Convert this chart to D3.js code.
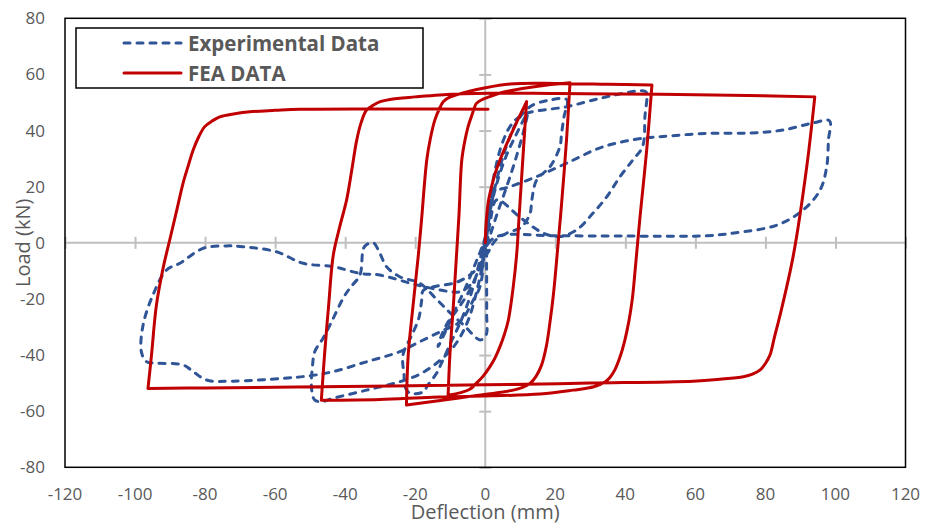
<!DOCTYPE html>
<html>
<head>
<meta charset="utf-8">
<script src="https://cdn.jsdelivr.net/npm/d3@7"></script>
<style>
  body { margin: 0; background: #fff; }
  svg { display: block; font-family: "Open Sans", sans-serif; }
</style>
</head>
<body>
<div id="chart"></div>
<script>
// FEA hysteresis, deflection (mm) and load (kN), in loading order
var feaDeflection = [0, 0.15, 0.4, 0.9, 1.8, 2.9, 4.2, 5.8, 7.5, 9.6, 11.8,
  9.6, 9, 8, 6.6, 5.5, 4.2, 2.8, 1.3, -0.6, -2.5, -4.4, -7, -10.6,
  -10.1, -9.1, -8.2, -7.5, -6.7, -5.8, -4.9, -3.8, -2.5, -0.6, 1.3, 4, 7.1, 15, 24.2,
  23.2, 21.8, 20.4, 19.5, 18.5, 17.5, 16.1, 14.5, 12.8, 10.5, 8, -7, -22.5,
  -22, -20.6, -19.1, -18.2, -16.7, -15.7, -14.4, -13.2, -12, -10.3, -8.2, -4.5, -0.6, 7.1, 20, 35, 47.6,
  46.1, 44.2, 42.8, 42, 41, 39.8, 38.4, 37, 35.6, 34.2, 31, 25.1, 15.6, -15, -30.1, -46.8,
  -45.9, -44.7, -43.4, -41.6, -39.6, -38.1, -36.7, -35.4, -33.9, -32, -30, -27.2, -20, -13, 1.3, 20, 50, 75, 94.1,
  91.8, 88, 84.2, 82.6, 81.3, 80, 78.5, 76.3, 73.7, 67, 59.4, 30, 0, -40, -80, -96.3,
  -95.3, -93.9, -92, -90.1, -88.2, -86.3, -84.8, -83.4, -81.8, -80.1, -78, -75.8, -71.5, -67.2, -60, -52.9, -25, 0.8];
var feaLoad = [0, 5, 9.3, 14.8, 20, 25, 29.5, 34.3, 39, 44.6, 50.3,
  8.1, -3.7, -15.6, -27.5, -32.5, -37, -41, -44.2, -47.5, -50, -52.2, -53.4, -54.3,
  -40, -22.2, -4.3, 10, 29.5, 36.5, 41.4, 45.5, 49.7, 51.2, 52.1, 53.3, 54.2, 55.8, 57,
  36.6, 14, -6, -18, -28.1, -36.5, -43.5, -47.6, -50.1, -51.6, -52.5, -55.2, -57.8,
  -40, -22.2, -4.3, 8.1, 29.5, 37, 43.7, 47.5, 50.3, 51.8, 52.7, 54, 55.1, 56.6, 56.8, 56.5, 56.2,
  33.1, 9.3, -9.7, -20, -28, -35, -41, -45.3, -48, -49.6, -51.3, -52.5, -53.9, -55, -55.8, -56.1,
  -40, -22, -4.4, 5.5, 15.2, 26, 36.6, 43, 47.3, 49, 50.3, 51.1, 52, 52.7, 53.3, 53.2, 52.9, 52.5, 52,
  27.1, -4.3, -25.7, -33.5, -40, -43, -45.3, -46.8, -47.7, -48.6, -49.3, -50, -50.6, -51.2, -51.7, -51.9,
  -40, -22.2, -9.1, 1, 11, 21.2, 27.5, 33.1, 37.8, 41.4, 43.4, 44.9, 46, 46.7, 47.2, 47.6, 47.7, 47.6];

// Experimental hysteresis, deflection (mm) and load (kN)
var expDeflection = [0, 0.8, 1.5, 0.8, -0.5, -1.2, -0.3, 0.5,
  1.5, 3.5, 6, 9, 12,
  11, 9.2, 7.2, 5, 3.3, 1.5, 0, -2, -4.5, -7.5, -10.5, -12.5, -13.5,
  -11.5, -9, -6, -3, 0,
  1.8, 4, 6.5, 9, 12.8, 18.5, 23.3,
  22.5, 21.8, 21.3, 18.5, 14.7, 13.3, 12.8, 10.4, 6.1, 3, 0.5,
  -3, -8, -14, -17.7, -18.2, -19, -21, -23.5, -23.2, -22.9, -21.5, -17.7, -16.4, -13.9, -12.5, -10, -7, -4, -1.5, 0,
  1, 2.5, 5, 8, 11.8, 23.3, 32.8, 40.4, 44.2, 45.9, 45.6, 44.9, 42.2, 38.5, 34.7, 30.8, 26.1, 21.3, 16.5, 10, 3.3,
  1.5, 0.5, 0.4, 0.4, 0.2, -1.5, -6, -10, -14, -18.7, -24.4, -28.2, -30.1, -32, -34.5,
  -35.8, -38.7, -40.6, -43.4, -46.3, -48.7, -49.3, -49.6, -48.7, -46.7, -43.4, -33.9, -24.4, -19, -14, -9, -5, -2, 0,
  1, 2.2, 7.1, 14.7, 23.3, 33.6, 45.1, 49.9, 63.3, 75.6, 85, 93.6, 98.3,
  98, 97.5, 95.6, 90.8, 83.3, 71, 63.3, 40, 20, 4, 1,
  -1.5, -3.5, -7.2, -10.1, -19.6, -30.1, -35.8, -43.4, -52, -59.6, -69.1, -73.9, -80.6, -87.2, -91,
  -94.9, -97.7, -98.2, -96.7, -93.9, -86.3, -83.4, -79.6, -72, -57.7, -50.1, -43.4, -33.9, -24.4, -19.6,
  -12.9, -7.2, -3.4, -1.5, -0.6, -1];
var expLoad = [0, 7, 14, 6, -4, -12, -4, 4,
  12, 22, 31, 39, 46,
  40, 32, 24, 16, 10, 3, -3, -10, -17, -23, -28, -33, -37,
  -32, -25, -17, -8, 2,
  14, 26, 36, 43, 48.5, 50.9, 51,
  45, 39, 34.2, 27.1, 22.4, 15.3, 10.5, 5.7, 3.4, 1, -4,
  -10, -14, -15.5, -17, -21, -27, -33, -40, -47, -51.3, -53.6, -53.1, -50.7, -46.5, -42.9, -36, -28, -18, -6, 2,
  12, 24, 36, 43, 46.1, 48.5, 51.5, 53.5, 54.2, 53.8, 45, 34.2, 29.6, 23.6, 16.4, 10.6, 4.6, 2.2, 3.5, 9, 15.3,
  8, -2, -14, -25, -33, -34.6, -29.5, -25, -20, -14.4, -12.1, -8.5, -3.7, 0, -1.4,
  -11.5, -16.2, -19.8, -26.9, -34, -38.8, -43.5, -51.9, -56, -56.6, -55.4, -52.5, -49.5, -47, -43, -37, -28, -15, -2,
  8, 17.7, 20, 23.6, 28.4, 34.2, 37.3, 37.8, 39, 39.1, 40.2, 42.7, 43.5,
  36.6, 27.1, 18.8, 11.7, 6.3, 3.5, 2.5, 2.4, 2.5, 2.5, 0,
  -8, -14, -17.4, -17.4, -15, -11.5, -10.9, -8.5, -7.3, -3.2, -1.4, -1.1, -2, -7.3, -9.7,
  -18.6, -29.3, -38.8, -42.4, -42.9, -43.5, -45.9, -48.9, -49.3, -48.3, -47.4, -45.9, -42.4, -38.8, -35.8,
  -31.7, -28.1, -20.4, -15.6, -7.3, 0];

var xTicks = [-120, -100, -80, -60, -40, -20, 0, 20, 40, 60, 80, 100, 120];
var yTicks = [-80, -60, -40, -20, 0, 20, 40, 60, 80];
var seriesNames = ["Experimental Data", "FEA DATA"];

// split a hysteresis path where the deflection reverses, so each branch
// can be smoothed on its own and the load reversals stay sharp
function splitBranches(pts) {
  var branches = [];
  var cur = [pts[0]];
  var dir = 0;
  for (var i = 1; i < pts.length; i++) {
    var s = Math.sign(pts[i][0] - pts[i - 1][0]);
    if (dir !== 0 && s !== 0 && s !== dir) {
      branches.push(cur);
      cur = [pts[i - 1]];
    }
    if (s !== 0) dir = s;
    cur.push(pts[i]);
  }
  branches.push(cur);
  return branches;
}

function drawChart() {
  var w = 926;
  var h = 525;
  var plotLeft = 65, plotRight = 905.5, plotTop = 18.3, plotBottom = 467.3;

  var svg = d3.select("#chart")
    .append("svg")
    .attr("width", w)
    .attr("height", h);

  var x = d3.scaleLinear().domain([-120, 120]).range([plotLeft, plotRight]);
  var y = d3.scaleLinear().domain([-80, 80]).range([plotBottom, plotTop]);

  var grey = "#bfbfbf";
  var textColor = "#595959";

  // axis lines through zero
  svg.append("line")
    .attr("x1", x(-120)).attr("x2", x(120))
    .attr("y1", y(0)).attr("y2", y(0))
    .attr("stroke", grey).attr("stroke-width", 2);
  svg.append("line")
    .attr("x1", x(0)).attr("x2", x(0))
    .attr("y1", y(80)).attr("y2", y(-80))
    .attr("stroke", grey).attr("stroke-width", 2);

  // cross tick marks
  var xAxis = svg.append("g")
    .attr("transform", "translate(0," + (y(0) - 6) + ")")
    .call(d3.axisBottom(x).tickValues(xTicks).tickSize(12).tickFormat(""));
  var yAxis = svg.append("g")
    .attr("transform", "translate(" + (x(0) + 6) + ",0)")
    .call(d3.axisLeft(y).tickValues(yTicks).tickSize(12).tickFormat(""));
  [xAxis, yAxis].forEach(function (g) {
    g.select(".domain").remove();
    g.selectAll(".tick line").attr("stroke", grey).attr("stroke-width", 2);
  });

  // tick labels sit low / left, outside the plot
  svg.selectAll(".xlabel")
    .data(xTicks)
    .enter()
    .append("text")
    .attr("class", "xlabel")
    .attr("x", function (d) { return x(d); })
    .attr("y", 500)
    .attr("text-anchor", "middle")
    .attr("fill", textColor)
    .style("font-size", "17px")
    .text(function (d) { return d; });

  svg.selectAll(".ylabel")
    .data(yTicks)
    .enter()
    .append("text")
    .attr("class", "ylabel")
    .attr("x", 45)
    .attr("y", function (d) { return y(d) + 6; })
    .attr("text-anchor", "end")
    .attr("fill", textColor)
    .style("font-size", "17px")
    .text(function (d) { return d; });

  // axis titles
  svg.append("text")
    .attr("x", (plotLeft + plotRight) / 2)
    .attr("y", 519)
    .attr("text-anchor", "middle")
    .attr("fill", textColor)
    .style("font-size", "20px")
    .text("Deflection (mm)");

  svg.append("text")
    .attr("transform", "translate(30," + y(0) + ") rotate(-90)")
    .attr("text-anchor", "middle")
    .attr("fill", textColor)
    .style("font-size", "20px")
    .text("Load (kN)");

  // clip the curves to the plot area
  svg.append("clipPath").attr("id", "plotClip")
    .append("rect")
    .attr("x", plotLeft).attr("y", plotTop)
    .attr("width", plotRight - plotLeft).attr("height", plotBottom - plotTop);

  var smoothLine = d3.line()
    .x(function (d) { return x(d[0]); })
    .y(function (d) { return y(d[1]); })
    .curve(d3.curveCatmullRom.alpha(0.5));

  var plot = svg.append("g").attr("clip-path", "url(#plotClip)");

  plot.append("path")
    .datum(d3.zip(expDeflection, expLoad))
    .attr("d", smoothLine)
    .attr("fill", "none")
    .attr("stroke", "#2f5597")
    .attr("stroke-width", 3)
    .attr("stroke-linecap", "round")
    .attr("stroke-linejoin", "round")
    .attr("stroke-dasharray", "6,7");

  var feaBranches = splitBranches(d3.zip(feaDeflection, feaLoad));
  plot.append("path")
    .attr("d", feaBranches.map(function (b) { return smoothLine(b); }).join(""))
    .attr("fill", "none")
    .attr("stroke", "#c00000")
    .attr("stroke-width", 3)
    .attr("stroke-linejoin", "round")
    .attr("stroke-linecap", "round");

  // plot border
  svg.append("rect")
    .attr("x", plotLeft).attr("y", plotTop)
    .attr("width", plotRight - plotLeft).attr("height", plotBottom - plotTop)
    .attr("fill", "none")
    .attr("stroke", "#000")
    .attr("stroke-width", 1.5);

  // legend
  var legend = svg.append("g");
  legend.append("rect")
    .attr("x", 76).attr("y", 28)
    .attr("width", 347).attr("height", 60)
    .attr("fill", "#fff")
    .attr("stroke", "#000")
    .attr("stroke-width", 1.5);

  var rows = legend.selectAll(".row")
    .data(seriesNames)
    .enter()
    .append("g")
    .attr("class", "row")
    .attr("transform", function (d, i) { return "translate(0," + (43 + i * 30) + ")"; });

  rows.append("line")
    .attr("x1", 124).attr("x2", 181)
    .attr("y1", 0).attr("y2", 0)
    .attr("stroke", function (d, i) { return i === 0 ? "#2f5597" : "#c00000"; })
    .attr("stroke-width", 3)
    .attr("stroke-linecap", "round")
    .attr("stroke-dasharray", function (d, i) { return i === 0 ? "6,7" : null; });

  rows.append("text")
    .attr("x", 188)
    .attr("y", 7.5)
    .attr("fill", textColor)
    .style("font-size", "20.5px")
    .style("font-weight", "bold")
    .text(function (d) { return d; });
}

drawChart();
</script>
</body>
</html>
